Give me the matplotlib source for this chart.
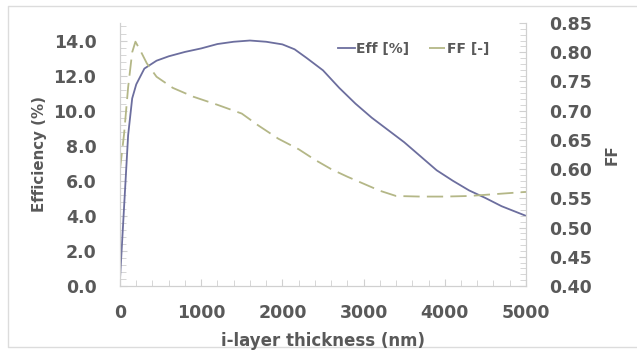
import numpy as np
import matplotlib
matplotlib.use("Agg")
import matplotlib.pyplot as plt
from matplotlib.lines import Line2D
from matplotlib.ticker import MultipleLocator, FormatStrFormatter

# efficiency vs i-layer thickness
eff_x = [0, 50, 100, 150, 200, 300, 450, 600, 800, 1000, 1200, 1400, 1600, 1800,
         2000, 2150, 2300, 2500, 2700, 2900, 3100, 3300, 3500, 3700, 3900, 4100,
         4300, 4500, 4700, 5000]
eff_y = [0.4, 4.5, 8.6, 10.7, 11.5, 12.4, 12.85, 13.1, 13.35, 13.55, 13.8, 13.93,
         14.0, 13.93, 13.78, 13.5, 13.0, 12.3, 11.3, 10.4, 9.6, 8.9, 8.2, 7.4,
         6.6, 6.0, 5.45, 5.02, 4.55, 4.0]

# fill factor vs i-layer thickness
ff_x = [0, 50, 100, 150, 190, 250, 330, 450, 650, 900, 1200, 1500, 1700, 1950,
        2200, 2400, 2600, 2800, 3000, 3200, 3400, 3700, 4000, 4300, 4600, 4800, 5000]
ff_y = [0.60, 0.66, 0.74, 0.80, 0.818, 0.803, 0.781, 0.758, 0.739, 0.724, 0.71,
        0.695, 0.675, 0.652, 0.634, 0.616, 0.60, 0.587, 0.575, 0.563, 0.554,
        0.553, 0.553, 0.554, 0.557, 0.559, 0.561]

txt = "#595959"
grey = "#d0d0d0"
plt.rcParams["font.family"] = ["DejaVu Sans"]
plt.rcParams["font.weight"] = "bold"

fig = plt.figure(figsize=(6.37, 3.57), dpi=100)
ax = fig.add_axes([0.1884, 0.1989, 0.6373, 0.7367])
ax2 = ax.twinx()

# outer frame: left, top and bottom edges only
fig.add_artist(Line2D([1.0, 0.0126, 0.0126, 1.0], [0.983, 0.983, 0.028, 0.028],
                      transform=fig.transFigure, color="#dcdcdc", lw=1.0, zorder=-5))

l1, = ax.plot(eff_x, eff_y, color="#6c6e9e", lw=1.3, label="Eff [%]")
l2, = ax2.plot(ff_x, ff_y, color="#b4b787", lw=1.3, dashes=(9, 4), label="FF [-]")

ax.set_xlim(0, 5000)
ax.set_ylim(0, 15)
ax2.set_ylim(0.40, 0.85)

ax.xaxis.set_major_locator(MultipleLocator(1000))
ax.xaxis.set_minor_locator(MultipleLocator(200))
ax.yaxis.set_major_locator(MultipleLocator(2))
ax.yaxis.set_minor_locator(MultipleLocator(0.4))
ax.yaxis.set_major_formatter(FormatStrFormatter("%.1f"))
ax2.yaxis.set_major_locator(MultipleLocator(0.05))
ax2.yaxis.set_minor_locator(MultipleLocator(0.01))
ax2.yaxis.set_major_formatter(FormatStrFormatter("%.2f"))

for a in (ax, ax2):
    for s in a.spines.values():
        s.set_color(grey)
    a.spines["top"].set_visible(False)
    a.tick_params(which="both", direction="in", color=grey, labelcolor=txt, labelsize=12.5)
    a.tick_params(which="major", length=5)
    a.tick_params(which="minor", length=4)
ax.tick_params(axis="x", pad=13)
ax.tick_params(axis="y", pad=17)
ax2.tick_params(axis="y", pad=17)

ax.set_xlabel("i-layer thickness (nm)", fontsize=12, color=txt, fontweight="bold", labelpad=7)
ax.set_ylabel("Efficiency (%)", fontsize=10.8, color=txt, fontweight="bold", labelpad=5)
ax2.set_ylabel("FF", fontsize=11, color=txt, fontweight="bold", labelpad=9)

leg = ax.legend(handles=[l1, l2], ncol=2, frameon=False, loc="center",
                bbox_to_anchor=(0.649, 0.863), bbox_transform=fig.transFigure,
                handlelength=1.2, handletextpad=0.1, columnspacing=1.4,
                prop={"size": 10, "weight": "bold"})
for t in leg.get_texts():
    t.set_color(txt)

fig.savefig("out.png", dpi=100)
